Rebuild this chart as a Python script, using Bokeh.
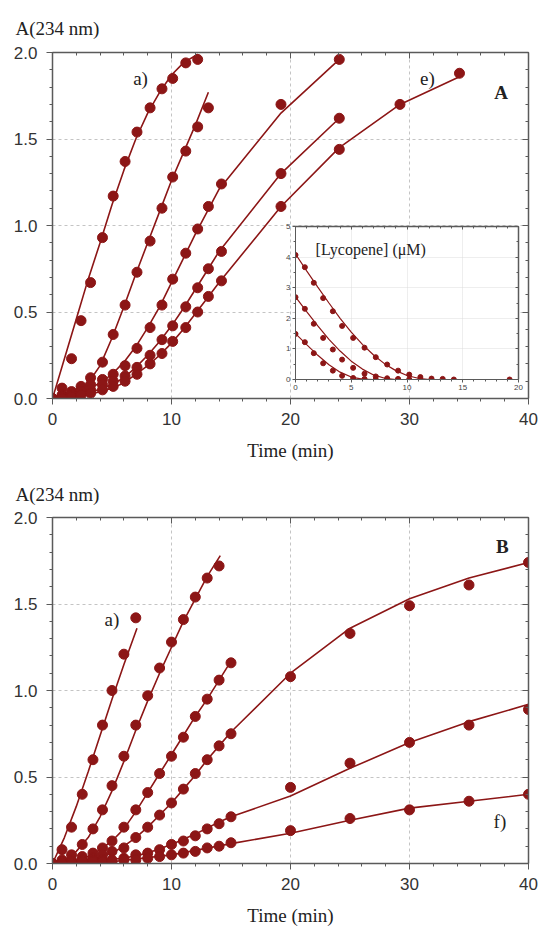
from bokeh.plotting import figure
from bokeh.models import (LinearAxis, FixedTicker, NumeralTickFormatter, Label,
                          GridBox, Range1d)
from bokeh.embed import file_html
from bokeh.resources import INLINE

RED = "#8c1616"
AX = "#5a5a5a"
LAB = "#333333"
SANS = "Liberation Sans"
SERIF = "Liberation Serif"

# ---------------- Panel A data (points) ----------------
tA_a = [0, 0.8, 1.6, 2.4, 3.2, 4.2, 5.1, 6.1, 7.1, 8.2, 9.2, 10.1, 11.2, 12.2]
yA_a = [0, 0.06, 0.23, 0.45, 0.67, 0.93, 1.17, 1.37, 1.54, 1.68, 1.79, 1.85, 1.94, 1.96]
tA_b = [0, 0.8, 1.6, 2.4, 3.2, 4.2, 5.1, 6.1, 7.1, 8.2, 9.2, 10.1, 11.2, 12.2, 13.1]
yA_b = [0, 0.02, 0.04, 0.07, 0.12, 0.21, 0.37, 0.54, 0.73, 0.91, 1.10, 1.28, 1.43, 1.57, 1.68]
tA_c = [0, 0.8, 1.6, 2.4, 3.2, 4.2, 5.1, 6.1, 7.1, 8.2, 9.2, 10.1, 11.2, 12.2, 13.1, 14.2, 19.2, 24.1]
yA_c = [0, 0.01, 0.03, 0.05, 0.08, 0.11, 0.14, 0.19, 0.29, 0.41, 0.54, 0.69, 0.84, 0.98, 1.11, 1.24, 1.70, 1.96]
tA_d = [0, 0.8, 1.6, 2.4, 3.2, 4.2, 5.1, 6.1, 7.1, 8.2, 9.2, 10.1, 11.2, 12.2, 13.1, 14.2, 19.2, 24.1]
yA_d = [0, 0.01, 0.02, 0.04, 0.05, 0.08, 0.10, 0.13, 0.18, 0.25, 0.34, 0.42, 0.53, 0.64, 0.75, 0.85, 1.30, 1.62]
tA_e = [0, 0.8, 1.6, 2.4, 3.2, 4.2, 5.1, 6.1, 7.1, 8.2, 9.2, 10.1, 11.2, 12.2, 13.1, 14.2, 19.2, 24.1, 29.2, 34.2]
yA_e = [0, 0.0, 0.01, 0.02, 0.03, 0.05, 0.07, 0.10, 0.14, 0.20, 0.26, 0.33, 0.41, 0.50, 0.59, 0.68, 1.11, 1.44, 1.70, 1.88]

# ---------------- Panel A fitted curves ----------------
fA_a_t = [0, 1, 2, 3, 4, 5, 6, 7, 8, 9, 10, 11, 12.2]
fA_a_y = [0, 0.23, 0.46, 0.69, 0.90, 1.12, 1.32, 1.50, 1.65, 1.77, 1.87, 1.94, 1.99]
fA_b_t = [0, 1, 2, 3, 4, 5, 6, 7, 8, 9, 10, 11, 12, 13.1]
fA_b_y = [0, 0.01, 0.03, 0.09, 0.19, 0.35, 0.53, 0.72, 0.90, 1.08, 1.26, 1.42, 1.58, 1.77]
fA_c_t = [0, 2, 4, 5, 6, 7, 8, 9, 10, 11, 12, 13, 14, 19.2, 24.1]
fA_c_y = [0, 0.02, 0.09, 0.14, 0.21, 0.30, 0.41, 0.53, 0.67, 0.81, 0.95, 1.08, 1.21, 1.65, 1.96]
fA_d_t = [0, 3, 5, 6, 7, 8, 9, 10, 11, 12, 13, 14, 19.2, 24.1]
fA_d_y = [0, 0.03, 0.08, 0.12, 0.18, 0.25, 0.33, 0.42, 0.52, 0.63, 0.74, 0.85, 1.30, 1.62]
fA_e_t = [0, 3, 5, 6, 7, 8, 9, 10, 11, 12, 13, 14, 19.2, 24.1, 29.2, 34.2]
fA_e_y = [0, 0.02, 0.06, 0.09, 0.14, 0.19, 0.25, 0.32, 0.40, 0.49, 0.58, 0.67, 1.11, 1.45, 1.70, 1.86]

# ---------------- Inset: [Lycopene] (uM) ----------------
tI = [0, 0.84, 1.64, 2.48, 3.35, 4.18, 5.17, 6.19, 7.2, 8.22, 9.2, 10.2, 11.2, 12.2, 13.2, 14.2, 19.2]
yI1 = [4.07, 3.67, 3.16, 2.66, 2.23, 1.75, 1.36, 1.04, 0.73, 0.49, 0.29, 0.16, 0.08, 0.03, 0.02, 0.0, 0.0]
tI2 = [0, 0.84, 1.64, 2.48, 3.35, 4.18, 5.17, 6.19, 7.2, 8.22, 9.2, 10.2, 11.2]
yI2 = [2.69, 2.31, 1.82, 1.36, 0.98, 0.65, 0.38, 0.19, 0.10, 0.04, 0.02, 0.01, 0.0]
tI3 = [0, 0.84, 1.64, 2.48, 3.35, 4.18, 5.17, 6.19, 7.2, 8.22, 9.2]
yI3 = [1.49, 1.22, 0.86, 0.53, 0.29, 0.12, 0.05, 0.02, 0.0, 0.0, 0.0]
fI1_t = [0, 1, 2, 3, 4, 5, 6, 7, 8, 9, 10, 11, 12, 13, 19.2]
fI1_y = [4.1, 3.55, 3.02, 2.50, 2.0, 1.55, 1.15, 0.80, 0.51, 0.29, 0.13, 0.04, 0.0, 0.0, 0.0]
fI2_t = [0, 1, 2, 3, 4, 5, 6, 7, 8, 9, 10]
fI2_y = [2.7, 2.22, 1.75, 1.31, 0.93, 0.60, 0.34, 0.15, 0.04, 0.0, 0.0]
fI3_t = [0, 1, 2, 3, 4, 5, 6, 7]
fI3_y = [1.5, 1.14, 0.79, 0.48, 0.24, 0.08, 0.01, 0.0]

# ---------------- Panel B data (points) ----------------
tB_a = [0, 0.8, 1.6, 2.5, 3.4, 4.2, 5.0, 6.0, 7.0]
yB_a = [0, 0.08, 0.21, 0.40, 0.60, 0.80, 1.00, 1.21, 1.42]
tB_b = [0, 0.8, 1.6, 2.5, 3.4, 4.2, 5, 6, 7, 8, 9, 10, 11, 12, 13, 14]
yB_b = [0, 0.02, 0.05, 0.11, 0.20, 0.31, 0.45, 0.62, 0.80, 0.97, 1.13, 1.28, 1.41, 1.54, 1.65, 1.72]
tB_c = [0, 0.8, 1.6, 2.5, 3.4, 4.2, 5, 6, 7, 8, 9, 10, 11, 12, 13, 14, 15]
yB_c = [0, 0.01, 0.02, 0.04, 0.06, 0.09, 0.13, 0.21, 0.31, 0.41, 0.52, 0.62, 0.73, 0.85, 0.95, 1.06, 1.16]
tB_def = [0, 0.8, 1.6, 2.5, 3.4, 4.2, 5, 6, 7, 8, 9, 10, 11, 12, 13, 14, 15, 20, 25, 30, 35, 40]
yB_d = [0, 0.01, 0.01, 0.02, 0.03, 0.05, 0.07, 0.09, 0.15, 0.21, 0.28, 0.35, 0.43, 0.52, 0.60, 0.68, 0.75, 1.08, 1.33, 1.49, 1.61, 1.74]
yB_e = [0, 0.0, 0.01, 0.01, 0.02, 0.02, 0.02, 0.03, 0.05, 0.06, 0.08, 0.11, 0.13, 0.16, 0.20, 0.23, 0.27, 0.44, 0.58, 0.70, 0.80, 0.89]
yB_f = [0, 0, 0, 0.01, 0.01, 0.01, 0.01, 0.02, 0.02, 0.03, 0.04, 0.05, 0.06, 0.07, 0.09, 0.10, 0.12, 0.19, 0.26, 0.31, 0.36, 0.40]

# ---------------- Panel B fitted curves ----------------
fB_a_t = [0, 1, 2, 3, 4, 5, 6, 7.1]
fB_a_y = [0, 0.15, 0.33, 0.53, 0.74, 0.95, 1.15, 1.36]
fB_b_t = [0, 1, 2, 3, 4, 5, 6, 7, 8, 9, 10, 11, 12, 13, 14.1]
fB_b_y = [0, 0.02, 0.07, 0.15, 0.27, 0.42, 0.59, 0.77, 0.94, 1.10, 1.25, 1.40, 1.53, 1.66, 1.78]
fB_c_t = [0, 2, 3, 4, 5, 6, 7, 8, 9, 10, 11, 12, 13, 14, 15]
fB_c_y = [0, 0.02, 0.04, 0.08, 0.13, 0.20, 0.30, 0.41, 0.52, 0.63, 0.74, 0.85, 0.95, 1.06, 1.17]
fB_d_t = [0, 2, 4, 5, 6, 7, 8, 9, 10, 11, 12, 13, 14, 15, 20, 25, 30, 35, 40]
fB_d_y = [0, 0.01, 0.04, 0.06, 0.10, 0.15, 0.21, 0.28, 0.35, 0.43, 0.51, 0.60, 0.68, 0.76, 1.10, 1.36, 1.53, 1.65, 1.74]
fB_e_t = [0, 4, 6, 8, 10, 12, 14, 15, 20, 25, 30, 35, 40]
fB_e_y = [0, 0.02, 0.03, 0.06, 0.11, 0.17, 0.24, 0.27, 0.39, 0.55, 0.70, 0.82, 0.92]
fB_f_t = [0, 5, 10, 15, 20, 25, 30, 35, 40]
fB_f_y = [0, 0.01, 0.05, 0.115, 0.175, 0.25, 0.32, 0.36, 0.40]

# ---------------- ticks ----------------
X_MAJ = [0, 10, 20, 30, 40]
X_MIN = list(range(0, 41, 2))
Y_MAJ = [0.0, 0.5, 1.0, 1.5, 2.0]
Y_MIN = [i / 10 for i in range(0, 21)]
XI_MAJ = [0, 5, 10, 15, 20]
XI_MIN = list(range(0, 21))
YI_MAJ = [0, 1, 2, 3, 4, 5]
YI_MIN = [i / 2 for i in range(0, 11)]

Y_TITLE = "A(234 nm)"
X_TITLE = "Time (min)"


def mirror_axes(p, xt, yt, xmaj, ymaj, tin=6, tmin=3):
    for loc, t, maj in (("above", xt, xmaj), ("right", yt, ymaj)):
        ax = LinearAxis(ticker=t, major_label_overrides={m: "" for m in maj},
                        major_label_text_font_size="1px",
                        major_tick_in=tin, major_tick_out=0,
                        minor_tick_in=tmin, minor_tick_out=0,
                        axis_line_color=AX, major_tick_line_color=AX,
                        minor_tick_line_color=AX, axis_line_width=1.5,
                        major_label_standoff=0)
        p.add_layout(ax, loc)


def main_fig(height, top_border, bottom_border, title_standoff):
    p = figure(width=541, height=height, x_range=Range1d(0, 40), y_range=Range1d(0, 2),
               output_backend="svg", toolbar_location=None,
               min_border_left=52, min_border_right=13,
               min_border_top=top_border, min_border_bottom=bottom_border)
    p.outline_line_color = None
    xt = FixedTicker(ticks=X_MAJ, minor_ticks=X_MIN)
    yt = FixedTicker(ticks=Y_MAJ, minor_ticks=Y_MIN)
    for ax, t in ((p.xaxis[0], xt), (p.yaxis[0], yt)):
        ax.ticker = t
        ax.axis_line_color = AX
        ax.axis_line_width = 1.5
        ax.major_tick_line_color = AX
        ax.minor_tick_line_color = AX
        ax.major_tick_in = 0
        ax.major_tick_out = 6
        ax.minor_tick_in = 0
        ax.minor_tick_out = 3
        ax.major_label_text_font = SANS
        ax.major_label_text_font_size = "17px"
        ax.major_label_text_color = LAB
    p.yaxis[0].formatter = NumeralTickFormatter(format="0.0")
    p.yaxis[0].major_label_standoff = 9
    p.xaxis[0].major_label_standoff = 8
    p.xaxis[0].axis_label = X_TITLE
    p.xaxis[0].axis_label_text_font = SERIF
    p.xaxis[0].axis_label_text_font_size = "19px"
    p.xaxis[0].axis_label_text_font_style = "normal"
    p.xaxis[0].axis_label_text_color = "#222222"
    p.xaxis[0].axis_label_standoff = 12
    p.xgrid.ticker = xt
    p.ygrid.ticker = yt
    for g in (p.xgrid[0], p.ygrid[0]):
        g.grid_line_color = "#c4c4c4"
        g.grid_line_dash = "3 3"
        g.grid_line_width = 1
    mirror_axes(p, xt, yt, X_MAJ, Y_MAJ)
    p.title.text = Y_TITLE
    p.title.text_font = SERIF
    p.title.text_font_size = "19px"
    p.title.text_font_style = "normal"
    p.title.text_color = "#222222"
    p.title.align = "left"
    p.title.offset = -37
    p.title.standoff = title_standoff
    return p


def label(p, x, y, text, size="19px", style="normal"):
    p.add_layout(Label(x=x, y=y, text=text, text_font=SERIF, text_font_size=size,
                       text_font_style=style, text_color="#222222",
                       text_align="center", text_baseline="middle"))


# ================= Panel A =================
pA = main_fig(466, 52, 68, 27)
for t, y in ((fA_a_t, fA_a_y), (fA_b_t, fA_b_y), (fA_c_t, fA_c_y), (fA_d_t, fA_d_y), (fA_e_t, fA_e_y)):
    pA.line(t, y, line_color=RED, line_width=1.6)
for t, y in ((tA_a, yA_a), (tA_b, yA_b), (tA_c, yA_c), (tA_d, yA_d), (tA_e, yA_e)):
    pA.scatter(t, y, size=10, color=RED)
label(pA, 7.4, 1.85, "a)")
label(pA, 31.5, 1.85, "e)")
label(pA, 37.7, 1.77, "A", style="bold")

# ================= Inset =================
# (in the shared grid cell its borders are aligned with panel A's, so its
#  transparent border area is sized to put its frame where the inset sits)
ins = figure(width=288, height=273, x_range=Range1d(0, 20), y_range=Range1d(0, 5),
             output_backend="svg", toolbar_location=None,
             min_border_left=52, min_border_right=13, min_border_top=52, min_border_bottom=68)
ins.outline_line_color = None
ins.border_fill_alpha = 0
ins.background_fill_color = "white"
ins.margin = (174, 0, 0, 243)
xti = FixedTicker(ticks=XI_MAJ, minor_ticks=XI_MIN)
yti = FixedTicker(ticks=YI_MAJ, minor_ticks=YI_MIN)
for ax, t in ((ins.xaxis[0], xti), (ins.yaxis[0], yti)):
    ax.ticker = t
    ax.axis_line_color = AX
    ax.major_tick_line_color = AX
    ax.minor_tick_line_color = AX
    ax.major_tick_in = 0
    ax.major_tick_out = 3
    ax.minor_tick_in = 0
    ax.minor_tick_out = 2
    ax.major_label_text_font = SANS
    ax.major_label_text_font_size = "8px"
    ax.major_label_text_color = "#444444"
    ax.major_label_standoff = 2
ins.xgrid.ticker = xti
ins.ygrid.ticker = yti
for g in (ins.xgrid[0], ins.ygrid[0]):
    g.grid_line_color = "#dcdcdc"
    g.grid_line_dash = "1 1"
mirror_axes(ins, xti, yti, XI_MAJ, YI_MAJ, tin=3, tmin=2)
for t, y in ((fI1_t, fI1_y), (fI2_t, fI2_y), (fI3_t, fI3_y)):
    ins.line(t, y, line_color=RED, line_width=1.2)
for t, y in ((tI, yI1), (tI2, yI2), (tI3, yI3)):
    ins.scatter(t, y, size=5, color=RED)
ins.add_layout(Label(x=1.8, y=4.25, text="[Lycopene] (\u03bcM)", text_font=SERIF,
                     text_font_size="16px", text_color="#222222",
                     text_align="left", text_baseline="middle"))

# ================= Panel B =================
pB = main_fig(464, 51, 67, 26)
for t, y in ((fB_a_t, fB_a_y), (fB_b_t, fB_b_y), (fB_c_t, fB_c_y), (fB_d_t, fB_d_y),
             (fB_e_t, fB_e_y), (fB_f_t, fB_f_y)):
    pB.line(t, y, line_color=RED, line_width=1.6)
for t, y in ((tB_a, yB_a), (tB_b, yB_b), (tB_c, yB_c), (tB_def, yB_d), (tB_def, yB_e), (tB_def, yB_f)):
    pB.scatter(t, y, size=10, color=RED)
label(pB, 5.0, 1.41, "a)")
label(pB, 37.6, 0.24, "f)")
label(pB, 37.8, 1.83, "B", style="bold")

layout = GridBox(children=[(pA, 0, 0), (ins, 0, 0), (pB, 1, 0)])

open("out.html", "w").write(file_html(layout, INLINE))
